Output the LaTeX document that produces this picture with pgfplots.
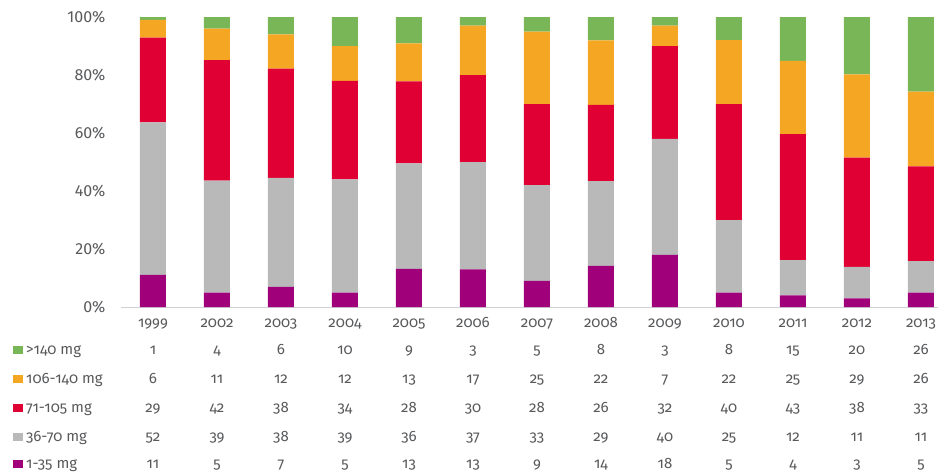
\documentclass[border=0pt]{standalone}
\usepackage{fontspec}
\setmainfont{Fira Sans}[Numbers=OldStyle]
\usepackage{pgfplots}
\usepackage{pgfplotstable}
\pgfplotsset{compat=1.18}
\definecolor{cg}{HTML}{79B658}
\definecolor{co}{HTML}{F5A724}
\definecolor{cr}{HTML}{E00034}
\definecolor{cq}{HTML}{B9B9B9}
\definecolor{cp}{HTML}{A0007A}
\definecolor{tg}{HTML}{58595B}
\definecolor{lg}{HTML}{D0D0D0}
% values as printed in the table
\pgfplotstableread{
x year p q r o g
0 1999 11 52 29 6 1
1 2002 5 39 42 11 4
2 2003 7 38 38 12 6
3 2004 5 39 34 12 10
4 2005 13 36 28 13 9
5 2006 13 37 30 17 3
6 2007 9 33 28 25 5
7 2008 14 29 26 22 8
8 2009 18 40 32 7 3
9 2010 5 25 40 22 8
10 2011 4 12 43 25 15
11 2012 3 11 38 29 20
12 2013 5 11 33 26 26
}\data
% bar heights as drawn (each bar fills 100%)
\pgfplotstableread{
x p q r o g
0 11.11 52.53 29.29 6.06 1.01
1 4.95 38.61 41.58 10.89 3.97
2 6.93 37.62 37.62 11.88 5.95
3 5 39 34 12 10
4 13.13 36.36 28.28 13.13 9.10
5 13 37 30 17 3
6 9 33 28 25 5
7 14.14 29.29 26.26 22.22 8.09
8 18 40 32 7 3
9 5 25 40 22 8
10 4.04 12.12 43.43 25.25 15.16
11 2.97 10.89 37.62 28.71 19.81
12 4.95 10.89 32.67 25.74 25.75
}\bars
\begin{document}
\begin{tikzpicture}[font=\fontsize{15}{18}\selectfont, text=tg]
\path[use as bounding box] (-121pt,-168pt) rectangle (817pt,307pt);
\begin{axis}[
  at={(0,0)}, anchor=south west,
  scale only axis, width=817pt, height=290pt,
  xmin=-0.5, xmax=12.266, ymin=0, ymax=100,
  ybar stacked, bar width=26pt,
  axis x line*=bottom, axis y line*=left,
  y axis line style={draw=none},
  x axis line style={draw=lg, line width=1pt, -},
  major tick length=0pt,
  xtick={0,...,12},
  xticklabels from table={\data}{year},
  xticklabel style={anchor=base, yshift=-20pt, text=tg},
  ytick={0,20,...,100},
  /pgf/number format/assume math mode=true,
  yticklabel={\addfontfeatures{Numbers=Lining}\pgfmathprintnumber{\tick}\%},
  yticklabel style={anchor=east, xshift=-12pt, text=tg, font=\fontsize{16}{18}\selectfont},
  clip=false,
]
\addplot[fill=cp, draw=none] table[x=x,y=p]{\bars};
\addplot[fill=cq, draw=none] table[x=x,y=q]{\bars};
\addplot[fill=cr, draw=none] table[x=x,y=r]{\bars};
\addplot[fill=co, draw=none] table[x=x,y=o]{\bars};
\addplot[fill=cg, draw=none] table[x=x,y=g]{\bars};
\pgfplotsinvokeforeach{0,...,12}{
  \node[anchor=base, yshift=-47pt] at (axis cs:#1,0) {\pgfplotstablegetelem{#1}{g}\of\data\pgfplotsretval};
  \node[anchor=base, yshift=-76pt] at (axis cs:#1,0) {\pgfplotstablegetelem{#1}{o}\of\data\pgfplotsretval};
  \node[anchor=base, yshift=-105pt] at (axis cs:#1,0) {\pgfplotstablegetelem{#1}{r}\of\data\pgfplotsretval};
  \node[anchor=base, yshift=-134pt] at (axis cs:#1,0) {\pgfplotstablegetelem{#1}{q}\of\data\pgfplotsretval};
  \node[anchor=base, yshift=-161pt] at (axis cs:#1,0) {\pgfplotstablegetelem{#1}{p}\of\data\pgfplotsretval};
}
\node[anchor=base west, inner sep=0pt, xshift=-108pt, yshift=-47pt] at (rel axis cs:0,0) {\textcolor{cg}{\rule{10pt}{8pt}}\hspace{3pt}>140 mg};
\node[anchor=base west, inner sep=0pt, xshift=-108pt, yshift=-76pt] at (rel axis cs:0,0) {\textcolor{co}{\rule{10pt}{8pt}}\hspace{3pt}106-140 mg};
\node[anchor=base west, inner sep=0pt, xshift=-108pt, yshift=-105pt] at (rel axis cs:0,0) {\textcolor{cr}{\rule{10pt}{8pt}}\hspace{3pt}71-105 mg};
\node[anchor=base west, inner sep=0pt, xshift=-108pt, yshift=-134pt] at (rel axis cs:0,0) {\textcolor{cq}{\rule{10pt}{8pt}}\hspace{3pt}36-70 mg};
\node[anchor=base west, inner sep=0pt, xshift=-108pt, yshift=-161pt] at (rel axis cs:0,0) {\textcolor{cp}{\rule{10pt}{8pt}}\hspace{3pt}1-35 mg};
\end{axis}
\end{tikzpicture}
\end{document}
